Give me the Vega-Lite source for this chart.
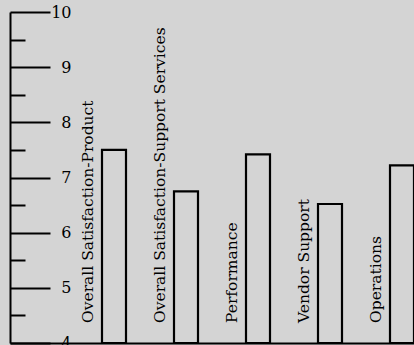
{
  "$schema": "https://vega.github.io/schema/vega-lite/v6.json",
  "width": 428,
  "height": 331,
  "autosize": {"type": "none"},
  "padding": {"left": 10, "top": 12, "right": 0, "bottom": 2},
  "background": "#d4d4d4",
  "config": {"view": {"stroke": null}},
  "data": {
    "values": [
      {"category": "Overall Satisfaction-Product", "score": 7.5},
      {"category": "Overall Satisfaction-Support Services", "score": 6.75},
      {"category": "Performance", "score": 7.42},
      {"category": "Vendor Support", "score": 6.52},
      {"category": "Operations", "score": 7.22}
    ]
  },
  "encoding": {
    "x": {
      "field": "category",
      "type": "nominal",
      "sort": null,
      "scale": {"paddingInner": 0, "paddingOuter": 0.47222, "align": 1},
      "axis": {"title": null, "labels": false, "ticks": false, "domainColor": "black", "domainWidth": 2}
    }
  },
  "layer": [
    {
      "mark": {"type": "bar", "width": 24, "fill": "#d4d4d4", "fillOpacity": 0, "stroke": "black", "strokeWidth": 2.2},
      "encoding": {
        "y": {
          "field": "score",
          "type": "quantitative",
          "scale": {"domain": [4, 10], "nice": false, "zero": false},
          "axis": {
            "orient": "left",
            "title": null,
            "grid": false,
            "values": [4, 5, 6, 7, 8, 9, 10],
            "format": "d",
            "domainColor": "black",
            "domainWidth": 2,
            "tickColor": "black",
            "tickWidth": 2,
            "tickSize": -40,
            "labelAlign": "right",
            "labelBaseline": "middle",
            "labelPadding": -21,
            "labelFont": "DejaVu Serif",
            "labelFontSize": 16,
            "labelColor": "black",
            "labelFlush": false,
            "labelOverlap": false
          }
        },
        "y2": {"datum": 4}
      }
    },
    {
      "mark": {"type": "text", "angle": 270, "align": "left", "baseline": "middle", "xOffset": -26, "yOffset": -20, "font": "DejaVu Serif", "fontSize": 15.5, "color": "black"},
      "encoding": {
        "y": {
          "datum": 4,
          "type": "quantitative",
          "axis": {
            "orient": "left",
            "title": null,
            "grid": false,
            "values": [4.5, 5.5, 6.5, 7.5, 8.5, 9.5],
            "domain": false,
            "labels": false,
            "tickColor": "black",
            "tickWidth": 2,
            "tickSize": -15
          }
        },
        "text": {"field": "category"}
      }
    }
  ],
  "resolve": {"axis": {"y": "independent"}}
}
